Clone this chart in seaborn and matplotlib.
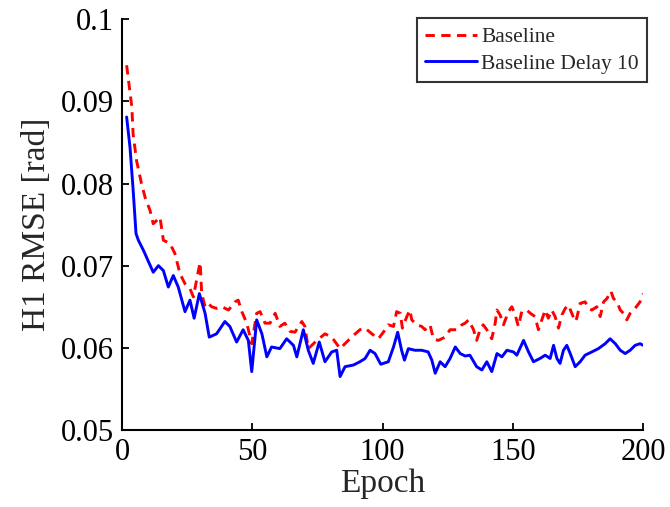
import matplotlib
matplotlib.use("Agg")
import matplotlib.pyplot as plt
import seaborn as sns
import pandas as pd


baseline_epoch = [1.8, 3.8, 4.3, 5.6, 7.5, 8.9, 10.8, 12.0, 14.6, 15.9, 18.4, 20.3, 22.3, 24.2,
                  26.1, 27.4, 29.1, 30.0, 30.6, 31.9, 33.1, 34.4, 36.3, 38.3, 40.9, 43.4, 44.6,
                  46.0, 47.9, 49.8, 51.7, 53.0, 54.9, 56.8, 58.8, 60.6, 62.5, 64.5, 66.4, 69.0,
                  70.2, 71.5, 74.8, 77.9, 80.5, 83.7, 86.2, 88.8, 91.3, 93.3, 95.9, 98.4, 101.0,
                  102.2, 104.2, 105.4, 106.8, 107.6, 109.3, 110.5, 111.2, 113.1, 115.0, 116.3,
                  118.2, 119.5, 121.4, 124.0, 125.9, 128.5, 130.4, 131.7, 133.0, 134.9, 136.1,
                  137.4, 138.6, 140.0, 141.9, 143.2, 143.9, 145.1, 146.4, 148.3, 149.6, 150.9,
                  152.1, 153.4, 155.3, 156.7, 158.5, 159.8, 161.1, 162.4, 163.6, 164.9, 166.2,
                  167.5, 168.8, 170.1, 171.3, 172.6, 173.9, 174.5, 175.8, 177.7, 179.0, 180.3,
                  182.2, 183.5, 184.8, 186.1, 187.6, 188.6, 189.9, 191.2, 192.4, 193.7, 195.0,
                  196.9, 198.8, 200.0]
baseline_rmse = [0.0944, 0.0893, 0.0860, 0.0828, 0.0800, 0.0783, 0.0767, 0.0751, 0.0759, 0.0731,
                 0.0727, 0.0715, 0.0690, 0.0678, 0.0672, 0.0662, 0.0690, 0.0704, 0.0666, 0.0650,
                 0.0654, 0.0650, 0.0648, 0.0650, 0.0646, 0.0656, 0.0658, 0.0644, 0.0630, 0.0605,
                 0.0642, 0.0644, 0.0630, 0.0630, 0.0642, 0.0626, 0.0630, 0.0620, 0.0619, 0.0632,
                 0.0626, 0.0599, 0.0609, 0.0617, 0.0613, 0.0599, 0.0607, 0.0615, 0.0622, 0.0624,
                 0.0617, 0.0611, 0.0622, 0.0628, 0.0626, 0.0644, 0.0642, 0.0624, 0.0638, 0.0646,
                 0.0634, 0.0628, 0.0626, 0.0622, 0.0628, 0.0611, 0.0609, 0.0613, 0.0622, 0.0622,
                 0.0628, 0.0630, 0.0634, 0.0622, 0.0609, 0.0622, 0.0628, 0.0622, 0.0611, 0.0630,
                 0.0646, 0.0640, 0.0628, 0.0644, 0.0650, 0.0640, 0.0626, 0.0644, 0.0646, 0.0642,
                 0.0638, 0.0622, 0.0634, 0.0646, 0.0636, 0.0646, 0.0638, 0.0624, 0.0640, 0.0648,
                 0.0652, 0.0642, 0.0632, 0.0636, 0.0654, 0.0656, 0.0648, 0.0646, 0.0650, 0.0638,
                 0.0656, 0.0660, 0.0669, 0.0660, 0.0656, 0.0646, 0.0642, 0.0634, 0.0642, 0.0648,
                 0.0656, 0.0666]

delay_epoch = [1.8, 3.1, 4.3, 5.4, 6.3, 8.2, 12.0, 14.0, 15.9, 17.8, 19.7, 21.6, 24.2, 26.1,
               27.7, 29.7, 31.9, 33.5, 36.3, 39.5, 41.4, 44.0, 46.5, 48.5, 49.8, 51.7, 53.7,
               55.6, 57.4, 60.6, 63.2, 65.8, 67.1, 69.6, 71.5, 73.4, 75.7, 77.9, 80.5, 82.4,
               83.7, 85.6, 88.8, 91.3, 93.3, 95.2, 97.1, 99.3, 102.2, 104.2, 105.8, 107.3,
               108.4, 109.9, 112.4, 115.0, 117.5, 118.9, 120.2, 122.1, 124.0, 125.9, 127.9,
               129.8, 131.7, 133.5, 136.1, 138.1, 140.0, 141.9, 143.9, 145.8, 147.7, 150.2,
               151.5, 154.1, 156.0, 157.9, 160.4, 162.4, 164.3, 165.6, 166.9, 168.1, 169.4,
               170.7, 172.0, 173.9, 175.8, 177.7, 180.3, 182.8, 185.4, 187.3, 189.3, 191.2,
               193.1, 195.0, 196.9, 198.8, 200.0]
delay_rmse = [0.0881, 0.0844, 0.0792, 0.0739, 0.0731, 0.0719, 0.0692, 0.0700, 0.0694, 0.0674,
              0.0688, 0.0674, 0.0644, 0.0658, 0.0636, 0.0666, 0.0642, 0.0613, 0.0617, 0.0632,
              0.0626, 0.0607, 0.0622, 0.0609, 0.0571, 0.0634, 0.0617, 0.0589, 0.0601, 0.0599,
              0.0611, 0.0603, 0.0589, 0.0622, 0.0597, 0.0581, 0.0607, 0.0583, 0.0595, 0.0597,
              0.0565, 0.0577, 0.0579, 0.0583, 0.0587, 0.0597, 0.0593, 0.0580, 0.0583, 0.0601,
              0.0619, 0.0597, 0.0585, 0.0599, 0.0597, 0.0597, 0.0595, 0.0585, 0.0569, 0.0583,
              0.0577, 0.0587, 0.0601, 0.0593, 0.0590, 0.0591, 0.0577, 0.0573, 0.0583, 0.0571,
              0.0593, 0.0589, 0.0597, 0.0595, 0.0591, 0.0609, 0.0595, 0.0583, 0.0587, 0.0591,
              0.0587, 0.0603, 0.0587, 0.0581, 0.0597, 0.0603, 0.0593, 0.0577, 0.0583, 0.0591,
              0.0595, 0.0599, 0.0605, 0.0611, 0.0605, 0.0597, 0.0593, 0.0597, 0.0603, 0.0605,
              0.0603]

df_base = pd.DataFrame({"Epoch": baseline_epoch, "RMSE": baseline_rmse})
df_delay = pd.DataFrame({"Epoch": delay_epoch, "RMSE": delay_rmse})

sns.set_style("ticks")
plt.rcParams["font.family"] = ["Liberation Serif", "DejaVu Serif"]
plt.rcParams["xtick.direction"] = "in"
plt.rcParams["ytick.direction"] = "in"

fig = plt.figure(figsize=(6.7, 5.07), dpi=100)
ax = fig.add_axes([0.182, 0.152, 0.778, 0.810])

sns.lineplot(data=df_base, x="Epoch", y="RMSE", ax=ax, color="#ff0000", lw=2.1,
             linestyle=(0, (3.2, 2.2)), label="Baseline", sort=False)
sns.lineplot(data=df_delay, x="Epoch", y="RMSE", ax=ax, color="#0000ff", lw=2.1,
             label="Baseline Delay 10", sort=False)

ax.set_xlim(0, 200)
ax.set_ylim(0.05, 0.1)
ax.set_xticks([0, 50, 100, 150, 200])
ax.set_yticks([0.05, 0.06, 0.07, 0.08, 0.09, 0.1])
ax.set_yticklabels(["0.05", "0.06", "0.07", "0.08", "0.09", "0.1"])
ax.tick_params(labelsize=22, length=5, width=1.3, colors="black", pad=6)
ax.set_xlabel("Epoch", fontsize=24, labelpad=1)
ax.set_ylabel("H1 RMSE [rad]", fontsize=24, labelpad=6)
sns.despine(ax=ax)
for s in ["left", "bottom"]:
    ax.spines[s].set_linewidth(1.5)
    ax.spines[s].set_color("black")

leg = ax.legend(loc="upper right", fontsize=15.5, frameon=True, fancybox=False,
                edgecolor="black", handlelength=2.4, handletextpad=0.2,
                borderpad=0.4, labelspacing=0.3, borderaxespad=0,
                bbox_to_anchor=(1.008, 1.002))
leg.get_frame().set_linewidth(1.5)

fig.savefig("out.png", dpi=100)
